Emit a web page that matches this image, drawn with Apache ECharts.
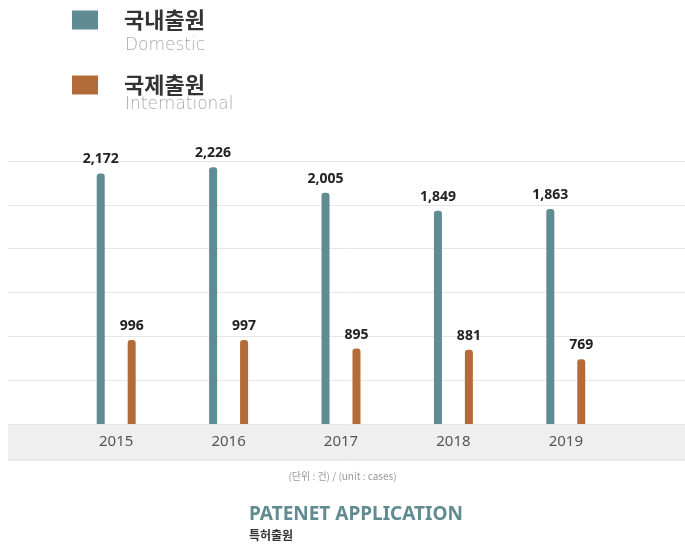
<!DOCTYPE html>
<html>
<head>
<meta charset="utf-8">
<script src="https://cdn.jsdelivr.net/npm/echarts@6/dist/echarts.min.js"></script>
<style>
  html, body { margin: 0; padding: 0; background: #fff; }
  #main { width: 685px; height: 548px; }
</style>
</head>
<body>
<div id="main"></div>
<script>
var years = ['2015', '2016', '2017', '2018', '2019'];
var domestic = [2172, 2226, 2005, 1849, 1863];
var international = [996, 997, 895, 881, 769];
var seriesNames = ['국내출원', '국제출원'];
var seriesSub = ['Domestic', 'International'];

var chart = echarts.init(document.getElementById('main'));

var labelOpt = {
  show: true,
  position: 'top',
  distance: 7,
  color: '#222',
  fontSize: 14,
  fontWeight: 'bold',
  fontFamily: 'Noto Sans',
  formatter: function (p) {
    return p.value.toLocaleString('en-US');
  }
};

var option = {
  animation: false,
  title: {
    text: 'PATENET APPLICATION',
    subtext: '특허출원',
    left: 244,
    top: 500,
    itemGap: 5,
    textStyle: { color: '#5f8b91', fontSize: 19, fontWeight: 'bold', fontFamily: 'Noto Sans' },
    subtextStyle: { color: '#333', fontSize: 12, fontWeight: 'bold', fontFamily: 'Noto Sans CJK KR' }
  },
  legend: {
    orient: 'vertical',
    left: 67,
    top: 4,
    itemWidth: 26,
    itemHeight: 19,
    itemGap: 43,
    icon: 'rect',
    selectedMode: false,
    data: seriesNames,
    formatter: '{a|{name}}',
    textStyle: {
      rich: {
        a: { color: '#333', fontSize: 22, fontWeight: 'bold', fontFamily: 'Noto Sans CJK KR', padding: [0, 0, 0, 21], lineHeight: 20 }
      }
    }
  },
  graphic: [
    { type: 'rect', z: -10, shape: { x: 8, y: 424, width: 677, height: 36 }, style: { fill: '#efefef' } },
    { type: 'line', z: -9, shape: { x1: 8, y1: 460, x2: 685, y2: 460 }, style: { stroke: '#dcdcdc', lineWidth: 1 } },
    { type: 'text', left: 125, top: 37, style: { text: seriesSub[0], fill: '#aaa', fontSize: 17, fontWeight: 200, fontFamily: 'DejaVu Sans' } },
    { type: 'text', left: 125, top: 96, style: { text: seriesSub[1], fill: '#aaa', fontSize: 17, fontWeight: 200, fontFamily: 'DejaVu Sans' } },
    { type: 'text', left: 'center', top: 471, style: { text: '(단위 : 건) / (unit : cases)', fill: '#999', fontSize: 10, fontFamily: 'Noto Sans CJK KR' } }
  ],
  grid: [
    { left: 8, right: 0, top: 161, bottom: 124 },
    { left: 60, right: 63, top: 161, bottom: 124 }
  ],
  xAxis: [
    { gridIndex: 0, type: 'value', min: 0, max: 1, show: false },
    {
      gridIndex: 1,
      type: 'category',
      data: years,
      axisLine: { show: false },
      axisTick: { show: false },
      axisLabel: { color: '#555', fontSize: 15, fontFamily: 'Noto Sans', margin: 10 }
    }
  ],
  yAxis: [
    {
      gridIndex: 0, type: 'value', min: 0, max: 2280, interval: 380,
      axisLine: { show: false }, axisTick: { show: false }, axisLabel: { show: false },
      splitLine: { lineStyle: { color: '#e6e6e6' } }
    },
    { gridIndex: 1, type: 'value', min: 0, max: 2280, show: false, splitLine: { show: false } },
    { gridIndex: 1, type: 'value', min: 0, max: 3120, show: false, splitLine: { show: false } }
  ],
  series: [
    {
      name: seriesNames[0],
      type: 'bar',
      xAxisIndex: 1,
      yAxisIndex: 1,
      data: domestic,
      barWidth: 8,
      barGap: '287%',
      itemStyle: { color: '#5f8c93', borderRadius: [3, 3, 0, 0] },
      label: labelOpt
    },
    {
      name: seriesNames[1],
      type: 'bar',
      xAxisIndex: 1,
      yAxisIndex: 2,
      data: international,
      barWidth: 8,
      barGap: '287%',
      itemStyle: { color: '#b36c37', borderRadius: [3, 3, 0, 0] },
      label: labelOpt
    }
  ]
};

chart.setOption(option);
</script>
</body>
</html>
